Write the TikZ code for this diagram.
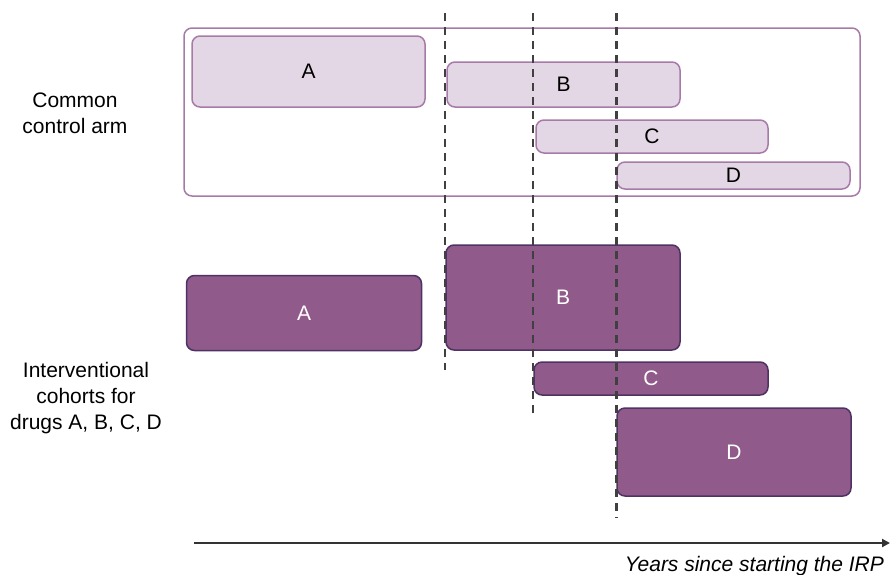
\documentclass[tikz,border=0pt]{standalone}
\usepackage{fontspec}
\setmainfont{Liberation Sans}
\usetikzlibrary{arrows.meta, positioning}
\definecolor{clight}{HTML}{E4D7E5}
\definecolor{clightline}{HTML}{A87AA9}
\definecolor{cdark}{HTML}{905B8A}
\definecolor{cdarkline}{HTML}{4E3263}
\definecolor{cdash}{HTML}{404040}
\tikzset{
  every picture/.style={font=\fontsize{21}{26}\selectfont, line width=1.5pt},
  frame/.style={draw=clightline, rounded corners=8pt, inner sep=0pt},
  ctrl/.style={draw=clightline, fill=clight, rounded corners=8pt, inner sep=0pt},
  cohort/.style={draw=cdarkline, fill=cdark, text=white, rounded corners=8pt, inner sep=0pt},
  guide/.style={draw=cdash, dash pattern=on 8pt off 6pt},
  axis/.style={-{Triangle[length=8pt, width=8pt]}, draw=black!80, line width=2pt},
  side/.style={align=center},
}
\begin{document}
\begin{tikzpicture}[x=1pt, y=-1pt]
  \useasboundingbox (0,0) rectangle (891,574);
  \node[frame, minimum width=676pt, minimum height=168pt] (ctrlarm) at (522,112) {};
  \foreach \n/\x/\y/\w/\h in {A/308.5/71.5/233/71, B/563.5/84.5/233/45, C/652/136.5/232/33, D/733.5/175.5/233/27} {
    \node[ctrl, minimum width=\w pt, minimum height=\h pt] (ctrl\n) at (\x,\y) {\n};
  }
  \foreach \n/\x/\y/\w/\h in {A/304/313/235/75, B/563/297.5/234/105, C/651/378.5/234/33, D/734/452/234/88} {
    \node[cohort, minimum width=\w pt, minimum height=\h pt] (cohort\n) at (\x,\y) {\n};
  }
  \foreach \x/\b/\lw in {445/370/2, 533/415/2, 616/518/3} {
    \draw[guide, line width=\lw pt] (\x,13) -- (\x,\b);
  }
  \node[side] (ctrllabel) at (75,113) {Common\\control arm};
  \node[side] (cohortlabel) at (86,398) {Interventional\\cohorts for\\drugs A, B, C, D};
  \coordinate (axstart) at (194,543);
  \coordinate (axend) at (890,543);
  \draw[axis] (axstart) -- (axend);
  \node[anchor=base east, font=\fontsize{21}{26}\selectfont\itshape] (axislabel) at (888,571) {Years since starting the IRP};
\end{tikzpicture}
\end{document}
